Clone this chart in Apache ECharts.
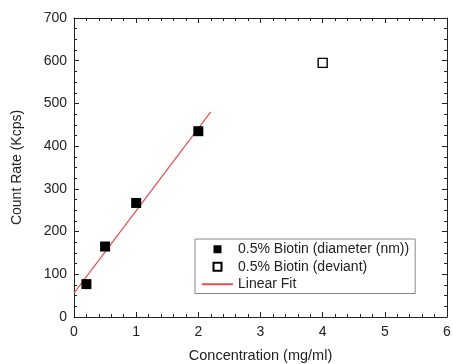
<!DOCTYPE html>
<html>
<head>
<meta charset="utf-8">
<script src="https://cdn.jsdelivr.net/npm/echarts@6/dist/echarts.min.js"></script>
<style>
  html, body { margin: 0; padding: 0; background: #fff; }
  #chart { width: 453px; height: 364px; }
</style>
</head>
<body>
<div id="chart"></div>
<script>
/** measured points */
const biotinPoints = [[0.2, 77], [0.5, 165], [1, 267], [2, 435]];
const deviantPoints = [[4, 595]];
/** fitted line end points */
const fitPoints = [[0, 56], [2.2, 480]];

const names = ["0.5% Biotin (diameter (nm))", "0.5% Biotin (deviant)", "Linear Fit"];

const font = "Liberation Sans, Arial, sans-serif";
const ink = "#222";

/** shared axis look: inward ticks with minor ticks */
const axisStyle = (minorSplit) => ({
  axisLine: { onZero: false, lineStyle: { color: ink, width: 1 } },
  axisTick: { inside: true, length: 5, lineStyle: { color: ink } },
  minorTick: { show: true, splitNumber: minorSplit, length: 3, lineStyle: { color: ink } },
  splitLine: { show: false },
});

const xRange = { type: "value", min: 0, max: 6, interval: 1 };
const yRange = { type: "value", min: 0, max: 700, interval: 100 };

const xMain = {
  ...xRange,
  ...axisStyle(5),
  position: "bottom",
  axisLabel: { color: ink, fontSize: 14, fontFamily: font, margin: 8 },
  name: "Concentration (mg/ml)",
  nameLocation: "middle",
  nameGap: 31,
  nameTextStyle: { color: ink, fontSize: 14.5, fontFamily: font },
};

const yMain = {
  ...yRange,
  ...axisStyle(4),
  position: "left",
  axisLabel: { color: ink, fontSize: 14, fontFamily: font, margin: 7 },
  name: "Count Rate (Kcps)",
  nameLocation: "middle",
  nameGap: 50,
  nameTextStyle: { color: ink, fontSize: 14, fontFamily: font },
};

/** mirrored axes on top and right, ticks only */
const xTop = { ...xRange, ...axisStyle(5), position: "top", axisLabel: { show: false } };
const yRight = { ...yRange, ...axisStyle(4), position: "right", axisLabel: { show: false } };

const chart = echarts.init(document.getElementById("chart"), null, { renderer: "canvas" });

chart.setOption({
  animation: false,
  grid: { left: 74, right: 6, top: 18, bottom: 47, outerBoundsMode: "none" },
  xAxis: [xMain, xTop],
  yAxis: [yMain, yRight],
  legend: {
    orient: "vertical",
    left: 195,
    top: 239,
    width: 227,
    padding: [3, 6, 2, 6],
    itemGap: 3,
    itemWidth: 31,
    itemHeight: 8,
    borderColor: "#888",
    borderWidth: 1,
    borderRadius: 0,
    textStyle: { color: ink, fontSize: 14, lineHeight: 14.5, fontFamily: font },
    data: [
      { name: names[0], icon: "path://M0,0h1v1h-1z" },
      { name: names[1], icon: "path://M0,0h1v1h-1z" },
      { name: names[2], itemStyle: { opacity: 0 } },
    ],
  },
  series: [
    {
      name: names[2],
      type: "line",
      data: fitPoints,
      showSymbol: false,
      symbol: "none",
      lineStyle: { color: "#e05050", width: 1.2 },
      itemStyle: { color: "#e05050" },
      z: 1,
    },
    {
      name: names[0],
      type: "scatter",
      data: biotinPoints,
      symbol: "rect",
      symbolSize: 10,
      itemStyle: { color: "#000", opacity: 1 },
      z: 3,
    },
    {
      name: names[1],
      type: "scatter",
      data: deviantPoints,
      symbol: "rect",
      symbolSize: 9,
      itemStyle: { color: "#fff", borderColor: "#000", borderWidth: 1.4, opacity: 1 },
      z: 3,
    },
  ],
});
</script>
</body>
</html>
